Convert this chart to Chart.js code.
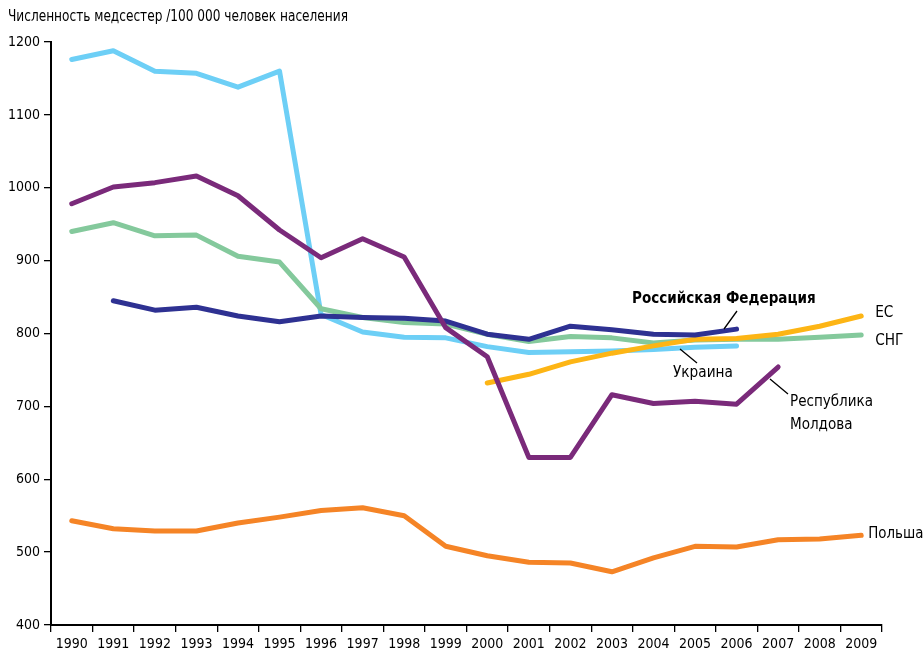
<!DOCTYPE html>
<html>
<head>
<meta charset="utf-8">
<script src="https://cdn.jsdelivr.net/npm/chart.js@4/dist/chart.umd.min.js"></script>
<style>
  html, body { margin: 0; padding: 0; background: #fff; }
  #wrap { width: 924px; height: 652px; position: relative; }
</style>
</head>
<body>
<div id="wrap"><canvas id="c" width="924" height="652"></canvas></div>
<script>
const titleText = 'Численность медсестер /100 000 человек населения';
const years = ['1990','1991','1992','1993','1994','1995','1996','1997','1998','1999',
               '2000','2001','2002','2003','2004','2005','2006','2007','2008','2009'];
const ukraine = [1176,1188,1160,1157,1138,1160,826,802,795,794,782,774,775,776,778,781,783,null,null,null];
const russia  = [null,845,832,836,824,816,824,822,821,817,799,792,810,805,799,798,806,null,null,null];
const cis     = [940,952,934,935,906,898,834,822,815,813,799,789,796,794,787,791,792,792,795,798];
const eu      = [null,null,null,null,null,null,null,null,null,null,732,744,761,773,783,792,793,799,810,824];
const moldova = [978,1001,1007,1016,989,942,904,930,905,808,768,630,630,716,704,707,703,754,null,null];
const poland  = [543,532,529,529,540,548,557,561,550,508,495,486,485,473,492,508,507,517,518,523];
const labelNames = {
  russia: 'Российская Федерация', eu: 'ЕС', cis: 'СНГ', ukraine: 'Украина',
  moldova1: 'Республика', moldova2: 'Молдова', poland: 'Польша'
};

const FONT = '"Liberation Sans Narrow", "Arial Narrow", "DejaVu Sans Condensed", sans-serif';

function drawText(ctx, txt, x, y, size, bold, sx) {
  ctx.save();
  ctx.font = (bold ? 'bold ' : '') + size + 'px ' + FONT;
  ctx.translate(x, y);
  ctx.scale(sx, 1);
  ctx.fillText(txt, 0, 0);
  ctx.restore();
}

const annot = {
  id: 'annot',
  afterDraw(chart) {
    const ctx = chart.ctx;
    const x = chart.scales.x, y = chart.scales.y;
    const X = i => x.getPixelForValue(i);
    const Y = v => y.getPixelForValue(v);
    ctx.save();
    ctx.fillStyle = '#000';
    ctx.textBaseline = 'middle';
    ctx.textAlign = 'left';
    drawText(ctx, titleText, 8, 17, 15, false, 0.9);

    const last = (arr) => { for (let i = arr.length - 1; i >= 0; i--) if (arr[i] != null) return i; };
    drawText(ctx, labelNames.russia, 632, 299, 16, true, 0.94);
    const ie = last(eu), ic = last(cis), ip = last(poland);
    drawText(ctx, labelNames.eu, X(ie) + 14, Y(eu[ie]) - 3, 16, false, 0.95);
    drawText(ctx, labelNames.cis, X(ic) + 14, Y(cis[ic]) + 6, 16, false, 0.95);
    drawText(ctx, labelNames.poland, X(ip) + 7, Y(poland[ip]) - 2, 16, false, 0.93);
    drawText(ctx, labelNames.ukraine, 673, 373, 16, false, 0.95);
    drawText(ctx, labelNames.moldova1, 790, 402, 16, false, 0.94);
    drawText(ctx, labelNames.moldova2, 790, 425, 16, false, 0.94);

    ctx.strokeStyle = '#000';
    ctx.lineWidth = 1.3;
    ctx.beginPath();
    ctx.moveTo(724, 329); ctx.lineTo(737, 311);
    ctx.moveTo(680, 349); ctx.lineTo(697, 363);
    ctx.moveTo(770, 379); ctx.lineTo(788, 394);
    ctx.stroke();
    ctx.restore();
  }
};

const ds = (label, data, color, order) => ({
  label, data, borderColor: color, backgroundColor: color,
  borderWidth: 5, pointRadius: 0, pointHoverRadius: 0, tension: 0,
  borderJoinStyle: 'round', borderCapStyle: 'round', spanGaps: false, order, fill: false
});

new Chart(document.getElementById('c'), {
  type: 'line',
  data: {
    labels: years,
    datasets: [
      ds('Республика Молдова', moldova, '#7a2a7a', 0),
      ds('Российская Федерация', russia, '#2e3192', 1),
      ds('ЕС', eu, '#fdb515', 2),
      ds('СНГ', cis, '#84c99c', 3),
      ds('Украина', ukraine, '#6dcff6', 4),
      ds('Польша', poland, '#f58426', 5)
    ]
  },
  options: {
    responsive: false,
    animation: false,
    events: [],
    layout: { padding: { top: 42, right: 42, left: 0, bottom: 0 } },
    plugins: { legend: { display: false }, tooltip: { enabled: false }, title: { display: false } },
    scales: {
      x: {
        type: 'category',
        offset: true,
        grid: { offset: true, drawOnChartArea: false, drawTicks: true, tickLength: 7, color: '#000', lineWidth: 1.3 },
        border: { display: true, color: '#000', width: 2 },
        ticks: { color: '#000', font: { family: FONT, size: 14 }, padding: 4, maxRotation: 0, autoSkip: false },
        afterFit(s) { s.height = 27; }
      },
      y: {
        min: 400, max: 1200,
        grid: { drawOnChartArea: false, drawTicks: true, tickLength: 7, color: '#000', lineWidth: 1.3 },
        border: { display: true, color: '#000', width: 2 },
        ticks: { stepSize: 100, color: '#000', font: { family: FONT, size: 14 }, padding: 4,
                 callback: v => String(v) },
        afterFit(s) { s.width = 51; }
      }
    }
  },
  plugins: [annot]
});
</script>
</body>
</html>
